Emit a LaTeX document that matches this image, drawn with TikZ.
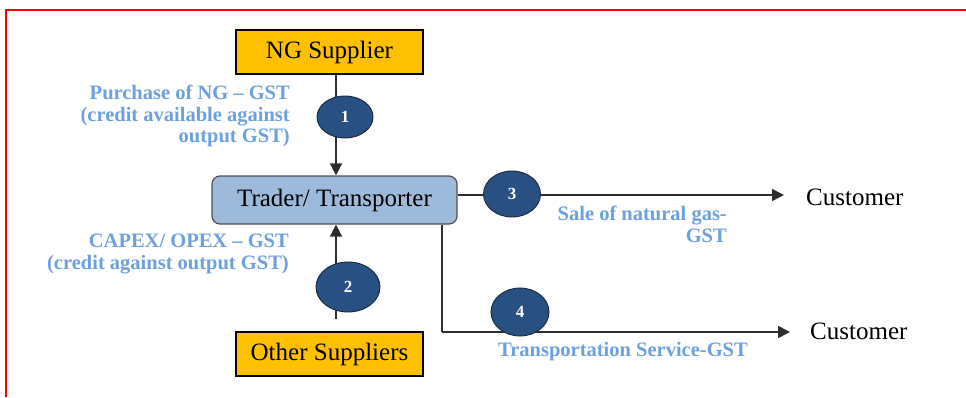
\documentclass[tikz,border=0pt]{standalone}
\usepackage{fontspec}
\setmainfont{Liberation Serif}
\usetikzlibrary{shapes.geometric,arrows.meta}
\definecolor{gold}{RGB}{255,192,0}
\definecolor{trfill}{RGB}{157,186,219}
\definecolor{trdraw}{RGB}{80,80,80}
\definecolor{circfill}{RGB}{40,80,130}
\definecolor{circdraw}{RGB}{25,40,60}
\definecolor{lbl}{RGB}{108,160,222}
\definecolor{lineclr}{RGB}{45,45,45}
\tikzset{
  supbox/.style={draw=black, line width=1.2pt, fill=gold, minimum width=187pt, minimum height=44pt, inner sep=0pt, font=\fontsize{25}{28}\selectfont},
  trbox/.style={draw=trdraw, line width=1.2pt, fill=trfill, rounded corners=8pt, minimum width=245pt, minimum height=48pt, inner sep=0pt, font=\fontsize{25}{28}\selectfont},
  numc/.style={ellipse, draw=circdraw, line width=0.9pt, fill=circfill, text=white, inner sep=0pt, font=\fontsize{17}{19}\selectfont\bfseries},
  lab/.style={text=lbl, inner sep=0pt, font=\fontsize{20.5}{21.5}\selectfont\bfseries},
  cust/.style={inner sep=0pt, anchor=west, font=\fontsize{25}{28}\selectfont},
  conn/.style={draw=lineclr, line width=1.5pt},
  arr/.style={conn, -{Triangle[length=12pt,width=12pt]}}
}
\begin{document}
\begin{tikzpicture}[x=1pt,y=-1pt]
\useasboundingbox (0,0) rectangle (966,397);
% red frame
\draw[red, line width=2pt] (6,397) -- (6,10) -- (966,10);
% boxes
\node[supbox] (ng) at (329.5,52) {NG Supplier};
\node[supbox] (other) at (329.5,354) {Other Suppliers};
\node[trbox] (trader) at (334.5,200) {Trader/ Transporter};
% helper coordinates
\coordinate (xa) at (336,0);
\coordinate (xb) at (442,0);
\coordinate (s2) at (336,319);
\coordinate (bend) at (442,332);
\coordinate (y3) at (0,195);
% customers
\node[cust] (cust1) at (806,197) {Customer};
\node[cust] (cust2) at (810,331) {Customer};
% connectors
\draw[arr] (ng.south -| xa) -- (trader.north -| xa);
\draw[arr] (s2) -- (trader.south -| xa);
\draw[arr] (trader.east |- y3) -- ([xshift=-22pt]cust1.west |- y3);
\draw[conn] (trader.south -| xb) -- (bend);
\draw[arr] (bend) -- ([xshift=-20pt]cust2.west |- bend);
% numbered circles
\node[numc, minimum width=56pt, minimum height=42pt] (c1) at (345,117) {1};
\node[numc, minimum width=64pt, minimum height=50pt] (c2) at (348,287) {2};
\node[numc, minimum width=57pt, minimum height=46pt] (c3) at (512,194) {3};
\node[numc, minimum width=58pt, minimum height=48pt] (c4) at (520,312) {4};
% labels
\node[lab, align=right, anchor=north east] (l1) at (290,85) {Purchase of NG – GST\\(credit available against\\output GST)};
\node[lab, align=right, anchor=north east] (l2) at (289,234) {CAPEX/ OPEX – GST\\(credit against output GST)};
\node[lab, align=right, anchor=north east] (l3) at (727,206) {Sale of natural gas-\\GST};
\node[lab, anchor=center] (l4) at (623,352) {Transportation Service-GST};
\end{tikzpicture}
\end{document}
